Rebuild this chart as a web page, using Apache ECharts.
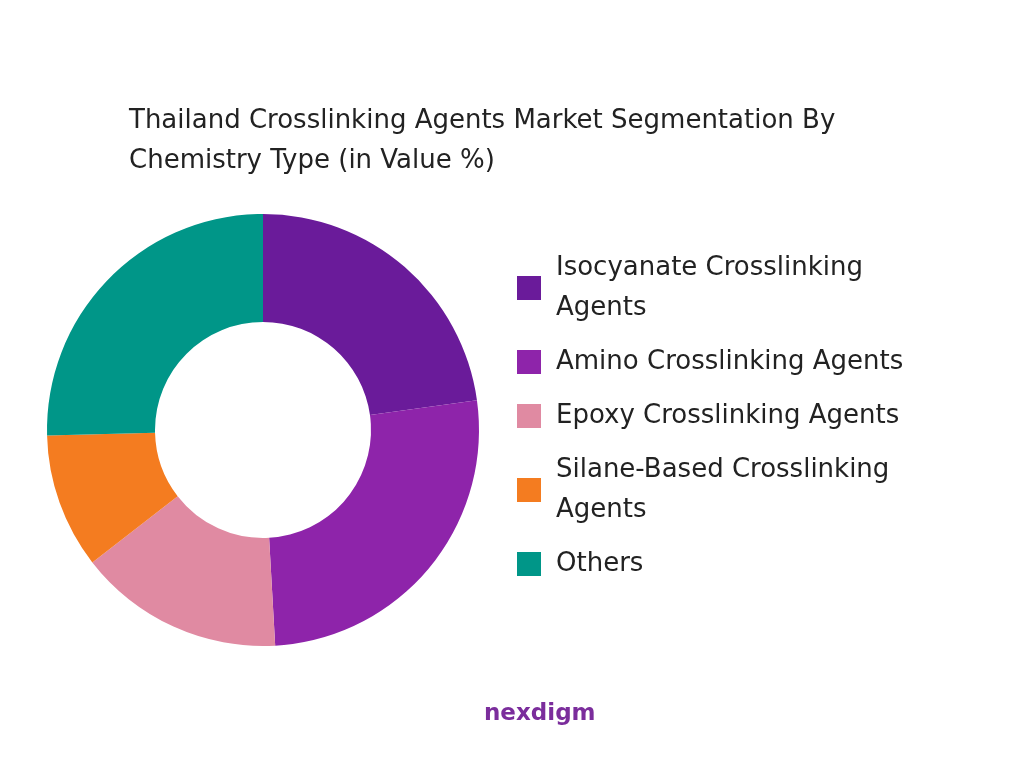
<!DOCTYPE html>
<html><head><meta charset="utf-8">
<script src="https://cdn.jsdelivr.net/npm/echarts@6/dist/echarts.min.js"></script>
<style>html,body{margin:0;background:#fff}#c{width:1024px;height:768px}</style>
</head><body><div id="c"></div>
<script>
const categories = ["Isocyanate Crosslinking\nAgents","Amino Crosslinking Agents","Epoxy Crosslinking Agents","Silane-Based Crosslinking\nAgents","Others"];
const values = [22.8, 26.3, 15.4, 10.1, 25.4];
const colors = ["#6A1B9A","#8E24AA","#E08AA2","#F47C20","#009688"];
const chart = echarts.init(document.getElementById('c'));
chart.setOption({
  title:{text:"Thailand Crosslinking Agents Market Segmentation By\nChemistry Type (in Value %)",left:124,top:96,
    textStyle:{fontFamily:"DejaVu Sans",fontWeight:"normal",fontSize:26,color:"#222",lineHeight:40}},
  legend:{orient:"vertical",left:512,top:243,itemWidth:24,itemHeight:24,itemGap:14,icon:"rect",
    textStyle:{fontFamily:"DejaVu Sans",fontSize:26,color:"#222",lineHeight:40,padding:[0,0,0,10]}},
  graphic:[{type:"text",left:484,top:703,style:{text:"nexdigm",fontFamily:"DejaVu Sans",fontWeight:"bold",fontSize:23,fill:"#7B2D9C"}}],
  series:[{type:"pie",center:[263,430],radius:[108,216],startAngle:90,clockwise:true,label:{show:false},
    silent:true,
    data:categories.map((n,i)=>({name:n,value:values[i],itemStyle:{color:colors[i]}}))}]
});
</script></body></html>
